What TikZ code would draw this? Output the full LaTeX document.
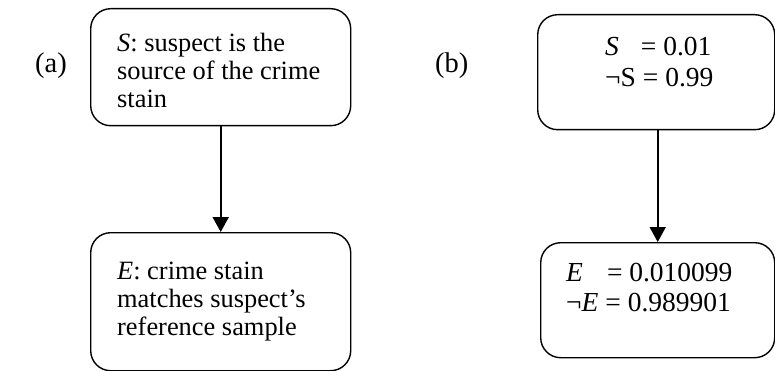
\documentclass[tikz,border=0pt]{standalone}
\usepackage{fontspec}
\setmainfont{Liberation Serif}
\usetikzlibrary{arrows.meta}
\tikzset{
  box/.style={draw, line width=1.4pt, rounded corners=20pt, anchor=north west, inner sep=0pt},
  lbl/.style={anchor=base west, inner sep=0pt, font=\fontsize{28.5}{30}\selectfont},
  txt/.style={anchor=base west, inner sep=0pt, font=\fontsize{26.4}{28}\selectfont},
  txtb/.style={anchor=base west, inner sep=0pt, font=\fontsize{27.5}{30.5}\selectfont},
  arr/.style={line width=1.8pt, -{Triangle[width=16pt,length=15pt]}}
}
\begin{document}
\begin{tikzpicture}[x=1pt,y=-1pt]
\useasboundingbox (0,0) rectangle (775,371);
% (a)
\node[lbl] (la) at (35,73) {(a)};
\node[box, minimum width=260pt, minimum height=117pt] (sA) at (90,8) {};
\node[box, minimum width=260pt, minimum height=138pt] (eA) at (90,232) {};
\node[txt] (sAt) at (117,52) {\begin{tabular}[t]{@{}l@{}}\textit{S}: suspect is the\\ source of the crime\\ stain\end{tabular}};
\node[txt] (eAt) at (117,279) {\begin{tabular}[t]{@{}l@{}}\textit{E}: crime stain\\ matches suspect’s\\ reference sample\end{tabular}};
\draw[arr] (sA.south) -- (eA.north);
% (b)
\node[lbl] (lb) at (435,73) {(b)};
\node[box, minimum width=237pt, minimum height=115pt] (sB) at (537,14) {};
\node[box, minimum width=234pt, minimum height=115pt] (eB) at (540,242) {};
\node[txtb] (sBt) at (605,56) {\begin{tabular}[t]{@{}l@{}}\textit{S}\hspace{22pt}= 0.01\\ ¬S = 0.99\end{tabular}};
\node[txtb] (eBt) at (566,281) {\begin{tabular}[t]{@{}l@{}}\textit{E}\hspace{24pt}= 0.010099\\ ¬\textit{E} = 0.989901\end{tabular}};
\draw[arr] (sB.south -| eB.north) -- (eB.north);
\end{tikzpicture}
\end{document}
